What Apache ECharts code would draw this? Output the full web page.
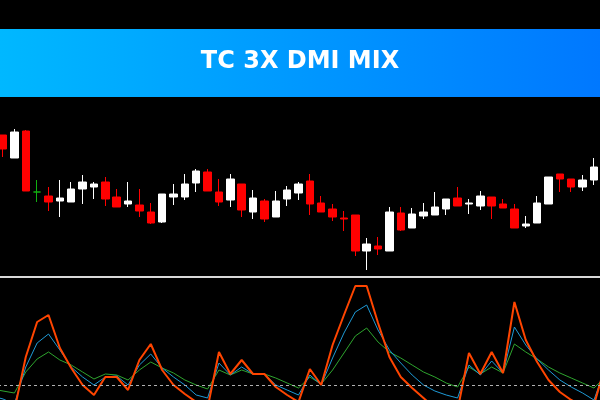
<!DOCTYPE html>
<html>
<head>
<meta charset="utf-8">
<script src="https://cdn.jsdelivr.net/npm/echarts@6/dist/echarts.min.js"></script>
<style>html,body{margin:0;padding:0;background:#000;}#c{width:600px;height:400px;}</style>
</head>
<body>
<div id="c"></div>
<script>
// Bars (index 0 and 54 lie just outside the visible window)
const bars = Array.from({length: 55}, (_, i) => 'B' + i);
// Candles: [open, close, low, high]
const candles = [
  '-',
  [142,128,120,142],[119,145,119,148],[146,86,86,147],[85,85,75,97],[81,75,66,90],
  [76,79,60,97],[75,88,75,95],[88,95,73,102],[90,93,78,95],[95,78,71,100],
  [80,70,70,88],[73,76,70,95],[72,66,60,88],[65,54,53,74],[55,83,54,83],
  [80,83,72,93],[80,93,77,103],[94,106,85,108],[105,86,86,108],[85,75,71,98],
  [77,98,70,103],[93,67,60,93],[65,79,58,87],[76,58,55,78],[60,76,60,86],
  [78,87,71,91],[84,93,77,95],[96,73,62,103],[74,65,65,81],[68,60,56,73],
  [59,58,46,66],[62,26,21,62],[26,33,7,39],[31,28,22,40],[26,65,26,70],
  [64,47,46,70],[49,63,49,69],[61,65,58,74],[62,70,62,85],[68,78,62,78],
  [79,71,71,90],[73,74,63,78],[71,81,67,86],[80,71,58,80],[73,69,69,78],
  [68,49,49,73],[51,53,49,61],[54,74,54,81],[73,100,73,100],[103,98,85,103],
  [98,90,85,98],[90,97,86,102],[97,110,92,119],
  '-'
];
const dojiIndex = 4;
// DMI lines
const adxLine = [-6,-12,-10,43,78,85,52,32,15,5,23,23,10,40,56,30,15,6,-2,-8,48,26,40,26,26,13,5,-2,31,15,55,85,114,114,77,43,23,12,2,-8,-15,-10,47,26,48,27,98,60,38,20,8,0,-6,-5,35];
const diLine = [4,1,-4,33,57,66,50,33,23,15,23,24,15,35,46,32,23,15,5,2,37,25,33,26,26,15,10,5,25,15,42,67,88,95,70,50,37,25,15,9,5,2,35,25,39,27,73,55,41,30,20,13,7,0,32];
const smoothLine = [11,9,7,28,41,48,40,35,28,21,26,25,20,30,38,32,27,20,15,11,30,25,30,26,26,22,17,12,23,16,30,47,64,72,58,48,42,35,28,23,17,13,33,26,33,27,56,48,41,33,27,22,17,12,23];
const baseLevel = 15;

const candleData = candles.map((c, i) => {
  if (i === dojiIndex) {
    return { value: c, itemStyle: { color: '#11b011', color0: '#11b011', borderColor: '#11b011', borderColor0: '#11b011', borderColorDoji: '#11b011' } };
  }
  return c;
});

const chart = echarts.init(document.getElementById('c'), null, { renderer: 'canvas' });
chart.setOption({
  animation: false,
  backgroundColor: '#000',
  graphic: [
    {
      type: 'rect', left: 0, top: 29, z: -1,
      shape: { width: 600, height: 68 },
      style: { fill: new echarts.graphic.LinearGradient(0, 0, 1, 0, [
        { offset: 0, color: '#00B8FF' }, { offset: 1, color: '#0078FF' }
      ]) }
    },
    {
      type: 'text', x: 300, y: 62,
      style: { text: 'TC 3X DMI MIX', fill: '#fff', font: 'bold 24px "DejaVu Sans"', textAlign: 'center', textVerticalAlign: 'middle' }
    }
  ],
  grid: [
    { left: -14, right: -11, top: 100, height: 177, containLabel: false, outerBoundsMode: 'none' },
    { left: -14, right: -11, top: 278, height: 122, containLabel: false, outerBoundsMode: 'none' }
  ],
  xAxis: [
    { type: 'category', data: bars, gridIndex: 0, boundaryGap: true,
      axisLine: { show: true, onZero: false, lineStyle: { color: '#d9d9d9', width: 2 } },
      axisTick: { show: false }, axisLabel: { show: false }, splitLine: { show: false } },
    { type: 'category', data: bars, gridIndex: 1, boundaryGap: true,
      axisLine: { show: false }, axisTick: { show: false }, axisLabel: { show: false }, splitLine: { show: false } }
  ],
  yAxis: [
    { type: 'value', gridIndex: 0, min: 0, max: 177, show: false, splitLine: { show: false } },
    { type: 'value', gridIndex: 1, min: 0, max: 122, show: false, splitLine: { show: false } }
  ],
  series: [
    {
      type: 'candlestick', xAxisIndex: 0, yAxisIndex: 0, data: candleData, barWidth: 8,
      itemStyle: { color: '#ffffff', color0: '#ff0000', borderColor: '#ffffff', borderColor0: '#ff0000', borderWidth: 1 }
    },
    {
      type: 'line', xAxisIndex: 1, yAxisIndex: 1, data: smoothLine, symbol: 'none',
      lineStyle: { color: '#2EA52E', width: 1 }, clip: true,
      markLine: { silent: true, symbol: 'none', label: { show: false },
        lineStyle: { color: '#b0b0b0', type: [3, 3], width: 1 },
        data: [{ yAxis: baseLevel }] }
    },
    {
      type: 'line', xAxisIndex: 1, yAxisIndex: 1, data: diLine, symbol: 'none',
      lineStyle: { color: '#1E9AD6', width: 1 }, clip: true
    },
    {
      type: 'line', xAxisIndex: 1, yAxisIndex: 1, data: adxLine, symbol: 'none',
      lineStyle: { color: '#FF4500', width: 2 }, clip: true
    }
  ]
});
</script>
</body>
</html>
